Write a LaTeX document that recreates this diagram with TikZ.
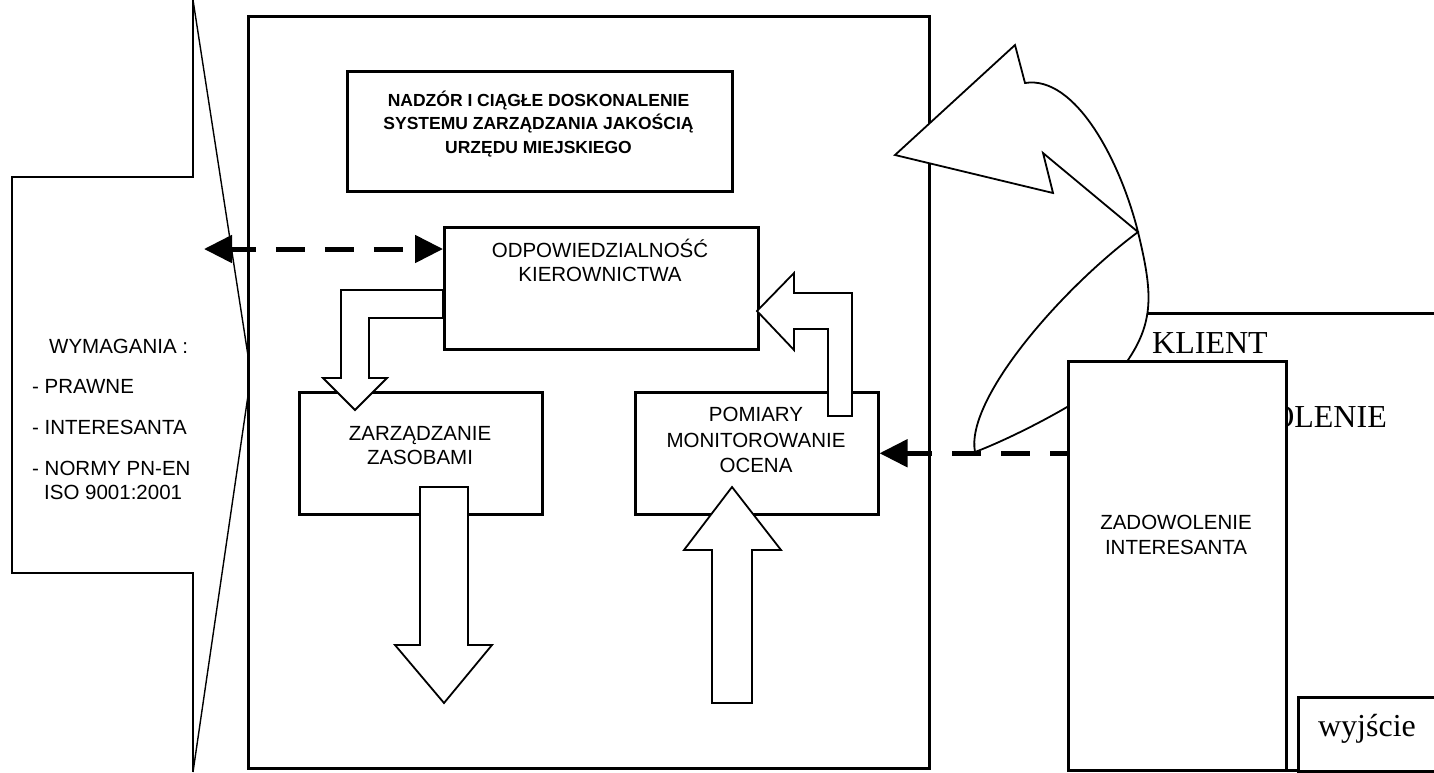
\documentclass[tikz,border=0pt]{standalone}
\usepackage{fontspec}
\setmainfont{Liberation Serif}
\setsansfont{Liberation Sans}
\usetikzlibrary{arrows.meta}
\begin{document}
\begin{tikzpicture}[x=1pt,y=-1pt,
  box/.style={draw, line width=2.5pt, fill=white, inner sep=0pt, anchor=north west},
  mainbox/.style={box, line width=3pt},
  thinline/.style={line width=1.4pt, line join=miter},
  blockarrow/.style={draw, line width=1.8pt, fill=white, line join=miter},
  curvearrow/.style={draw, line width=1.8pt, fill=white, line join=miter},
  sans/.style={font=\sffamily\fontsize{20.5}{24}\selectfont, inner sep=0pt},
  sansb/.style={font=\sffamily\bfseries\fontsize{17.5}{21}\selectfont, inner sep=0pt, anchor=base},
  serif/.style={font=\fontsize{32}{38}\selectfont, inner sep=0pt},
  tip/.style={Triangle[length=28pt,width=27pt]},
  dasharrow/.style={line width=5pt, dash pattern=on 29pt off 20pt},
]
\clip (0,0) rectangle (1434,772);
\fill[white] (0,0) rectangle (1434,772);

% left requirement shape
\draw[thinline] (193,0) -- (193,177) -- (12,177) -- (12,573) -- (193,573) -- (193,772);
\draw[thinline] (193,0) -- (251,375) -- (193,772);
\node[sans, anchor=base west] (wym) at (49,353) {WYMAGANIA :};
\node[sans, anchor=base west] (wpr) at (32,393.5) {- PRAWNE};
\node[sans, anchor=base west] (win) at (32,434.5) {- INTERESANTA};
\node[sans, anchor=base west] (wno) at (32,475.5) {- NORMY PN-EN};
\node[sans, anchor=base west] (wiso) at (44,499) {ISO 9001:2001};

% main frame
\node[mainbox, minimum width=681pt, minimum height=752pt] (main) at (247,15) {};

% top box
\node[box, line width=2.7pt, minimum width=385pt, minimum height=120pt] (top) at (346,70) {};
\node[sansb] (t1) at (538.5,106) {NADZÓR I CIĄGŁE DOSKONALENIE};
\node[sansb] (t2) at (538.5,129) {SYSTEMU ZARZĄDZANIA JAKOŚCIĄ};
\node[sansb] (t3) at (538.5,153) {URZĘDU MIEJSKIEGO};

% inner boxes
\node[box, minimum width=314pt, minimum height=122pt] (odp) at (443,226) {};
\node[sans, anchor=base] (o1) at (600,257) {ODPOWIEDZIALNOŚĆ};
\node[sans, anchor=base] (o2) at (600,281) {KIEROWNICTWA};

\node[box, minimum width=243pt, minimum height=122pt] (zarz) at (298,391) {};
\node[sans, anchor=base] (z1) at (420,440) {ZARZĄDZANIE};
\node[sans, anchor=base] (z2) at (420,464) {ZASOBAMI};

\node[box, minimum width=243pt, minimum height=122pt] (pom) at (634,391) {};
\node[sans, anchor=base] (p1) at (756,421) {POMIARY};
\node[sans, anchor=base] (p2) at (756,447) {MONITOROWANIE};
\node[sans, anchor=base] (p3) at (756,472) {OCENA};

% block arrows
\draw[blockarrow] (443,290) -- (341,290) -- (341,378) -- (323,378) -- (355,410)
  -- (387,378) -- (369,378) -- (369,318) -- (443,318) -- cycle;
\draw[blockarrow] (757,311) -- (794,273) -- (794,293) -- (852,293) -- (852,416)
  -- (828,416) -- (828,329) -- (794,329) -- (794,350) -- cycle;
\draw[blockarrow] (420,487) -- (468,487) -- (468,645) -- (492,645) -- (444,703)
  -- (395,645) -- (420,645) -- cycle;
\draw[blockarrow] (712,703) -- (752,703) -- (752,550) -- (781,550) -- (732,487)
  -- (684,550) -- (712,550) -- cycle;

% dashed double arrow to requirements
\coordinate (lreq) at (204,249);
\draw[dasharrow, dash phase=4pt, {Triangle[length=28pt,width=27pt]}-{Triangle[length=28pt,width=27pt]}]
  (lreq) -- (lreq -| odp.west);

% client box
\node[box, minimum width=340pt, minimum height=457pt] (klient) at (1100,312) {};
\node[serif, anchor=base west] (k1) at (1152,353) {KLIENT};
\node[serif, anchor=base west] (k2) at (1152,427) {ZADOWOLENIE};
\node[box, minimum width=143pt, minimum height=74pt] (wyj) at (1297,696) {};
\node[serif, anchor=base] (wyjt) at (1367,736) {wyjście};

% curved arrow
\draw[curvearrow] (895,155) -- (1015,45) -- (1025,83)
  .. controls (1075,75) and (1120,160) .. (1138,232)
  .. controls (1152,290) and (1155,320) .. (1128,360)
  .. controls (1108,390) and (1015,437) .. (975,452)
  .. controls (965,400) and (1060,290) .. (1138,232)
  -- (1043,153) -- (1053,193) -- cycle;

% satisfaction box
\node[box, minimum width=218pt, minimum height=409pt] (zad) at (1067,360) {};
\draw[dasharrow, dash phase=3pt, {Triangle[length=28pt,width=27pt]}-]
  (pom.east) -- (pom.east -| zad.west);
\node[sans, anchor=base] (zd1) at (1176,529) {ZADOWOLENIE};
\node[sans, anchor=base] (zd2) at (1176,554) {INTERESANTA};
\end{tikzpicture}
\end{document}
